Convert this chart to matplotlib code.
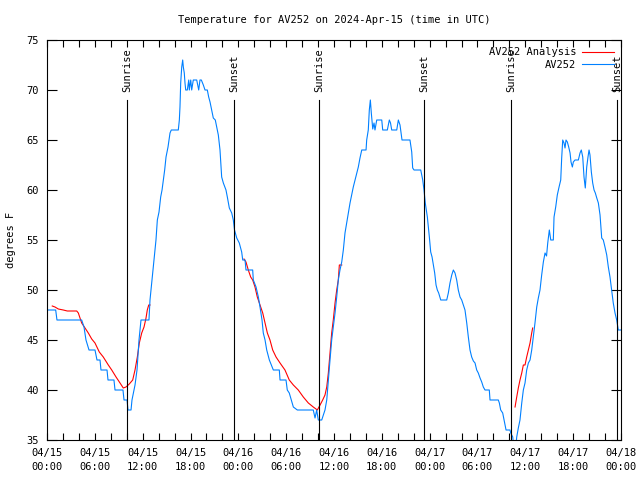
import matplotlib
matplotlib.use("Agg")
import matplotlib.pyplot as plt
import matplotlib.transforms as mtransforms

plt.rcParams['font.family'] = ['DejaVu Sans Mono']

# hours since 2024-04-15 00:00 UTC
obs_hours = [0.0, 1.09, 1.25, 4.35, 4.64, 4.89, 5.27, 6.02, 6.27, 6.65, 6.77, 7.53, 7.65, 8.40, 8.53, 9.53,
             9.66, 10.04, 10.16, 10.54, 10.66, 11.04, 11.29, 11.54, 11.79, 12.17, 12.79, 12.92, 13.17, 13.42,
             13.67, 13.84, 14.05, 14.26, 14.43, 14.55, 14.76, 14.93, 15.18, 15.43, 15.59, 16.47, 16.60, 16.68,
             16.77, 16.90, 17.02, 17.10, 17.22, 17.31, 17.40, 17.60, 17.78, 17.85, 18.03, 18.15, 18.35, 18.78,
             19.03, 19.19, 19.36, 19.61, 19.82, 20.11, 20.28, 20.45, 20.66, 20.86, 21.11, 21.29, 21.49, 21.70,
             21.91, 22.12, 22.45, 22.62, 22.87, 23.17, 23.37, 23.52, 23.80, 24.12, 24.42, 24.55, 24.84, 24.96,
             25.80, 25.88, 26.22, 26.51, 26.72, 26.97, 27.13, 27.35, 27.56, 27.89, 28.14, 28.39, 29.14, 29.23,
             29.98, 30.14, 30.39, 30.65, 30.90, 31.40, 33.40, 33.62, 33.83, 34.03, 34.46, 34.66, 34.87, 35.09,
             35.29, 35.50, 35.71, 35.91, 36.13, 36.34, 36.54, 36.75, 36.97, 37.17, 37.38, 37.59, 37.80, 38.01,
             38.22, 38.42, 38.64, 38.85, 39.05, 39.26, 39.48, 40.02, 40.10, 40.30, 40.43, 40.56, 40.68, 40.86,
             41.02, 41.14, 41.36, 41.99, 42.11, 42.69, 42.94, 43.09, 43.24, 43.87, 44.07, 44.28, 44.53, 45.53,
             45.75, 45.87, 46.04, 46.88, 47.13, 47.29, 47.45, 47.71, 47.96, 48.13, 48.30, 48.46, 48.63, 48.80,
             48.96, 49.13, 49.39, 50.14, 50.34, 50.55, 50.77, 50.97, 51.18, 51.39, 51.59, 51.81, 52.02, 52.22,
             52.43, 52.65, 52.85, 53.06, 53.27, 53.48, 53.69, 53.90, 54.10, 54.32, 54.53, 54.73, 54.94, 55.48,
             55.57, 56.61, 56.74, 56.91, 57.16, 57.33, 57.58, 58.08, 58.17, 58.42, 58.52, 58.83, 58.92, 59.12,
             59.33, 59.55, 59.75, 59.96, 60.17, 60.38, 60.59, 60.80, 61.00, 61.21, 61.43, 61.63, 61.84, 62.05,
             62.26, 62.47, 62.66, 62.81, 63.01, 63.19, 63.51, 63.60, 63.81, 64.01, 64.23, 64.44, 64.56, 64.69,
             64.85, 64.98, 65.10, 65.27, 65.44, 65.61, 65.73, 65.90, 66.02, 66.23, 66.65, 66.86, 67.02, 67.20,
             67.36, 67.52, 67.70, 67.86, 67.99, 68.11, 68.28, 68.45, 68.62, 68.78, 68.96, 69.16, 69.37, 69.58,
             69.78, 69.99, 70.21, 70.41, 70.62, 70.83, 71.03, 71.25, 71.46, 71.66, 72.0]
obs_temp = [48, 48, 47, 47, 46.3, 45, 44, 44, 43, 43, 42, 42, 41, 41, 40, 40,
            39, 39, 38, 38, 39, 40.5, 42, 45, 47, 47, 47, 49, 51, 53,
            55, 57, 57.8, 59.3, 60, 60.7, 62, 63.3, 64.3, 65.7, 66, 66, 67, 68.3,
            70.7, 72.3, 73, 72.3, 71.7, 70.7, 70, 70, 71, 70, 71, 70, 71, 71,
            70, 71, 71, 70.5, 70, 70, 69.3, 68.8, 68, 67.2, 67, 66.3, 65.5, 64,
            61.3, 60.7, 60, 59.3, 58.2, 57.7, 57, 56, 55.2, 54.7, 53.8, 53, 53, 52,
            52, 51, 50.3, 49.3, 48.3, 47, 45.7, 45, 44, 43, 42.5, 42, 42, 41,
            41, 40, 39.7, 39, 38.3, 38, 38, 37.2, 38, 37, 37, 37.5, 38, 39,
            41, 43, 45, 46.3, 47.7, 49.3, 51, 52, 52.8, 54, 55.7, 56.7, 57.7, 58.7,
            59.5, 60.3, 61, 61.7, 62.3, 63.2, 64, 64, 65, 66, 68, 69, 67.7, 66.1,
            66.7, 66, 67, 67, 66, 66, 67, 66.7, 66, 66, 67, 66.5, 65, 65,
            63.8, 62.2, 62, 62, 61, 60, 58.7, 57.3, 55.3, 53.8, 53.3, 52.5, 51.7, 50.5,
            50, 49.7, 49, 49, 49.7, 50.7, 51.5, 52, 51.7, 51, 50, 49.3, 49, 48.5,
            48, 46.7, 45.3, 44, 43.3, 42.9, 42.7, 42, 41.7, 41.2, 40.8, 40.3, 40, 40,
            39, 39, 38.7, 38, 37.7, 37, 36, 36, 35.7, 35.3, 34.5, 34.5, 35.3, 36.2,
            37, 38.7, 40, 40.7, 42, 42.7, 43, 44, 45.3, 46.7, 48.3, 49.2, 50, 51.5,
            52.8, 53.7, 53.4, 54.7, 56, 55, 55, 57.3, 58.3, 59.5, 60.3, 61, 63.2, 65,
            64.7, 64.2, 65, 64.8, 64.3, 63.7, 62.8, 62.3, 62.8, 63, 63, 63.7, 64, 63.3,
            61.3, 60.2, 62.3, 63.3, 64, 63.5, 61.8, 60.7, 60, 59.7, 59.2, 58.7, 57.5, 55.2,
            55, 54.3, 53.5, 52.3, 51.3, 50, 48.7, 47.7, 47, 46, 46]

ana1_hours = [0.66, 1.00, 1.42, 2.04, 2.55, 3.73, 3.93, 4.14, 4.35, 4.77, 5.18, 5.61, 6.02, 6.56, 7.06, 7.69,
              8.12, 8.66, 9.16, 9.57, 9.91, 10.32, 10.75, 11.04, 11.33, 11.58, 11.88, 12.17, 12.42, 12.58,
              12.76, 12.92]
ana1_temp = [48.4, 48.3, 48.1, 48, 47.9, 47.9, 47.7, 47.2, 46.7, 46.2, 45.7, 45.1, 44.7, 43.8, 43.3, 42.5,
             42, 41.3, 40.7, 40.2, 40.3, 40.6, 41, 42, 43.3, 44.7, 45.7, 46.3, 47.2, 48,
             48.5, 48.5]
ana2_hours = [24.71, 24.96, 25.25, 25.55, 25.80, 26.09, 26.38, 26.72, 27.06, 27.35, 27.64, 27.97, 28.31,
              28.73, 29.23, 29.85, 30.39, 30.90, 31.52, 32.15, 32.78, 33.40, 33.91, 34.25, 34.58, 34.87,
              35.09, 35.29, 35.50, 35.71, 35.91, 36.13, 36.34, 36.54, 36.67, 36.97]
ana2_temp = [53.1, 52.8, 52, 51.3, 51, 50.3, 49.3, 48.5, 47.7, 46.7, 45.7, 45, 44,
             43.3, 42.7, 42, 41, 40.5, 40, 39.3, 38.7, 38.3, 38, 38.5, 39, 39.5,
             40.3, 41.7, 43.7, 45.7, 47, 48.7, 50, 51, 52.5, 52.5]
ana3_hours = [58.71, 58.92, 59.12, 59.33, 59.55, 59.75, 59.96, 60.17, 60.38, 60.59, 60.80, 60.92]
ana3_temp = [38.3, 39.3, 40.2, 41, 41.7, 42.5, 42.5, 43.3, 44, 44.7, 45.7, 46.2]

sunrise_hours = [10.04, 34.1, 58.2]
sunset_hours = [23.46, 47.3, 71.5]

xtick_hours = list(range(0, 73, 6))
xtick_labels = ["04/15\n00:00", "04/15\n06:00", "04/15\n12:00", "04/15\n18:00",
                "04/16\n00:00", "04/16\n06:00", "04/16\n12:00", "04/16\n18:00",
                "04/17\n00:00", "04/17\n06:00", "04/17\n12:00", "04/17\n18:00",
                "04/18\n00:00"]
ytick_values = [35, 40, 45, 50, 55, 60, 65, 70, 75]

RED = "#ff0000"
BLUE = "#0080ff"
FS = 7.5
LW = 0.8

fig = plt.figure(figsize=(6.4, 4.8), dpi=100)
ax = fig.add_axes([47/640, 40/480, 574/640, 400/480])

ax.plot(ana1_hours, ana1_temp, color=RED, lw=LW, label="AV252 Analysis")
ax.plot(ana2_hours, ana2_temp, color=RED, lw=LW)
ax.plot(ana3_hours, ana3_temp, color=RED, lw=LW)
ax.plot(obs_hours, obs_temp, color=BLUE, lw=LW, label="AV252")

trans = mtransforms.blended_transform_factory(ax.transData, ax.transAxes)
for h in sunrise_hours:
    ax.axvline(h, ymin=0, ymax=0.85, color="black", lw=LW)
    ax.text(h, 0.87, "Sunrise", rotation=90, transform=trans, ha="center", va="bottom", fontsize=FS)
for h in sunset_hours:
    ax.axvline(h, ymin=0, ymax=0.85, color="black", lw=LW)
    ax.text(h, 0.87, "Sunset", rotation=90, transform=trans, ha="center", va="bottom", fontsize=FS)

ax.set_xlim(0, 72)
ax.set_ylim(35, 75)
ax.set_xticks(xtick_hours)
ax.set_xticklabels(xtick_labels, fontsize=FS, linespacing=1.4)
ax.set_xticks(range(0, 73, 2), minor=True)
ax.set_yticks(ytick_values)
ax.set_yticklabels([str(v) for v in ytick_values], fontsize=FS)
ax.tick_params(axis="both", which="both", direction="in", top=True, right=True, width=LW)
ax.tick_params(axis="x", which="both", length=5, pad=6)
ax.tick_params(axis="y", which="major", length=7, pad=6)
for sp in ax.spines.values():
    sp.set_linewidth(LW)
    sp.set_color("black")

ax.set_ylabel("degrees F", fontsize=FS, labelpad=7)
ax.set_title("Temperature for AV252 on 2024-Apr-15 (time in UTC)", fontsize=FS, pad=12)

leg = ax.legend(loc="upper right", frameon=False, fontsize=FS, handlelength=3.0,
                markerfirst=False, borderaxespad=0.3, handletextpad=0.6, labelspacing=0.25)

fig.savefig("out.png", dpi=100)
